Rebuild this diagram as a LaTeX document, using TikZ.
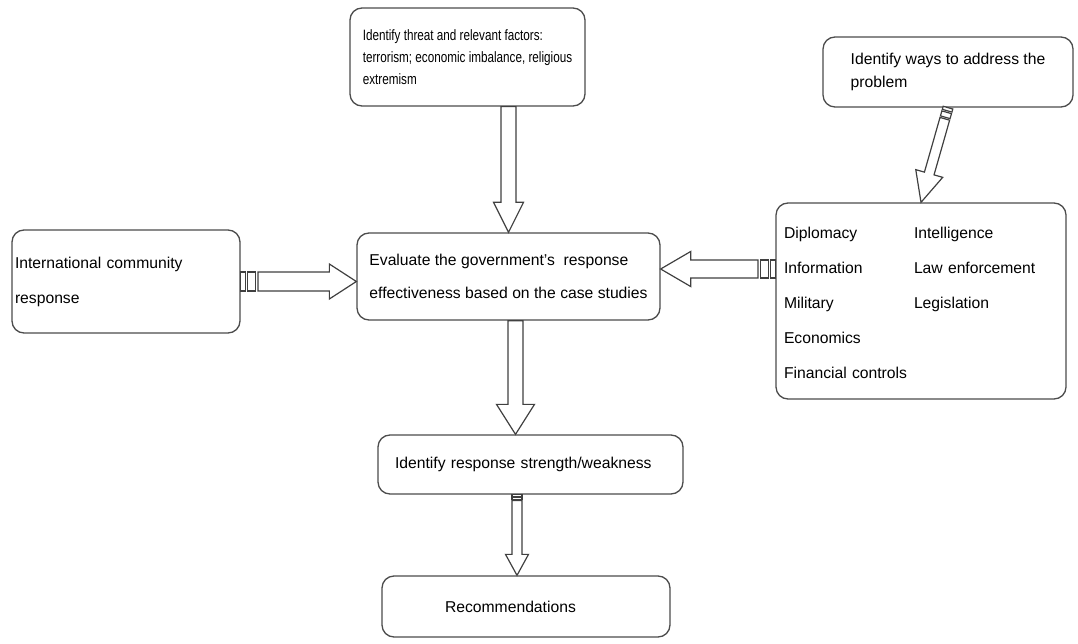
\documentclass[tikz,border=0pt]{standalone}
\usepackage{fontspec}
\setmainfont{Liberation Sans}
\newfontfamily\slimfont[FakeStretch=0.78]{Liberation Sans}
\usepackage{tikz}
\usetikzlibrary{calc}

\tikzset{
	flowbox/.style = {draw = black!70, line width = 1.3pt, rounded corners = 12pt, fill = white},
	arrowline/.style = {draw = black!75, line width = 1.2pt, fill = white, line join = miter},
}

% hollow block arrow: [stripe] {tail}{tip}{half shaft}{half head}{head length}
\newcommand{\blockarrow}[6][0]{%
	\coordinate (bTail) at (#2);
	\coordinate (bTip) at (#3);
	\coordinate (bHead) at ($(bTip)!#6pt!(bTail)$);
	\coordinate (bStart) at ($(bTail)!2.9*#1pt!(bTip)$);
	\draw [arrowline] ($(bStart)!#4pt!90:(bTip)$) -- ($(bHead)!#4pt!90:(bTip)$)
		-- ($(bHead)!#5pt!90:(bTip)$) -- (bTip) -- ($(bHead)!#5pt!-90:(bTip)$)
		-- ($(bHead)!#4pt!-90:(bTip)$) -- ($(bStart)!#4pt!-90:(bTip)$) -- cycle;
	\ifdim #1pt > 0pt
		\coordinate (bSa) at ($(bTail)!0.8*#1pt!(bTip)$);
		\coordinate (bSb) at ($(bTail)!1.2*#1pt!(bTip)$);
		\coordinate (bSc) at ($(bTail)!2.5*#1pt!(bTip)$);
		\draw [arrowline] ($(bTail)!#4pt!90:(bTip)$) -- ($(bSa)!#4pt!90:(bTip)$)
			-- ($(bSa)!#4pt!-90:(bTip)$) -- ($(bTail)!#4pt!-90:(bTip)$) -- cycle;
		\draw [arrowline] ($(bSb)!#4pt!90:(bTip)$) -- ($(bSc)!#4pt!90:(bTip)$)
			-- ($(bSc)!#4pt!-90:(bTip)$) -- ($(bSb)!#4pt!-90:(bTip)$) -- cycle;
	\fi
}

\begin{document}
\begin{tikzpicture}
[
	x	= 1pt,	% one unit per pixel of the sketch
	y	= -1pt,	% counted downwards from the top edge
	font	= \fontsize{15.7}{19}\selectfont,
]

{
	\useasboundingbox (0,0) rectangle (1078,644);

	% nodes declaration
	\node (threat) [flowbox, minimum width = 235, minimum height = 98, align = left, font = \slimfont\fontsize{15}{22}\selectfont] at (467.5,57) {Identify threat and relevant factors:\\terrorism; economic imbalance, religious\\extremism};
	\node (ways) [flowbox, minimum width = 250, minimum height = 70, align = left, font = \fontsize{15.7}{23}\selectfont] at (948,72) {Identify ways to address the\\problem};
	\node (intl) [flowbox, text width = 222, inner xsep = 3, minimum height = 103, align = left, font = \fontsize{15.7}{35}\selectfont] at (126,281.5) {International community\\response};
	\node (evaluate) [flowbox, minimum width = 303, minimum height = 87, align = left, font = \fontsize{15.7}{33}\selectfont] at (508.5,276.5) {Evaluate the government's~ response\\effectiveness based on the case studies};
	\node (tools) [flowbox, text width = 274, inner xsep = 8, minimum height = 196, align = left, font = \fontsize{15.7}{35}\selectfont] at (921,301)
		{\begin{tabular}{@{}p{130pt}@{}l@{}}
			Diplomacy & Intelligence\\
			Information & Law enforcement\\
			Military & Legislation\\
			Economics & \\
			Financial controls &
		\end{tabular}};
	\node (strength) [flowbox, text width = 271, inner xsep = 17, minimum height = 59, align = left] at (530.5,464.5) {Identify response strength/weakness};
	\node (recom) [flowbox, text width = 162, inner xsep = 63, minimum height = 61, align = left] at (526,606.5) {Recommendations};

	\coordinate (rightTip) at ([yshift=7.5pt]evaluate.east);
	\coordinate (downTail) at ([xshift=7pt]evaluate.south);
	\coordinate (recTip) at ([xshift=-9pt]recom.north);

	% edges declaration
	\blockarrow{threat.south -| evaluate.north}{evaluate.north}{7.5}{15}{30}
	\blockarrow[4]{ways.south}{tools.north}{5}{14}{30}
	\blockarrow[6]{intl.east}{intl.east -| evaluate.west}{9.5}{17.5}{27}
	\blockarrow[6]{rightTip -| tools.west}{rightTip}{9}{17.5}{30}
	\blockarrow{downTail}{downTail |- strength.north}{7.5}{19}{30}
	\blockarrow[2]{recTip |- strength.south}{recTip}{5}{11.5}{21}
}

\end{tikzpicture}
\end{document}
